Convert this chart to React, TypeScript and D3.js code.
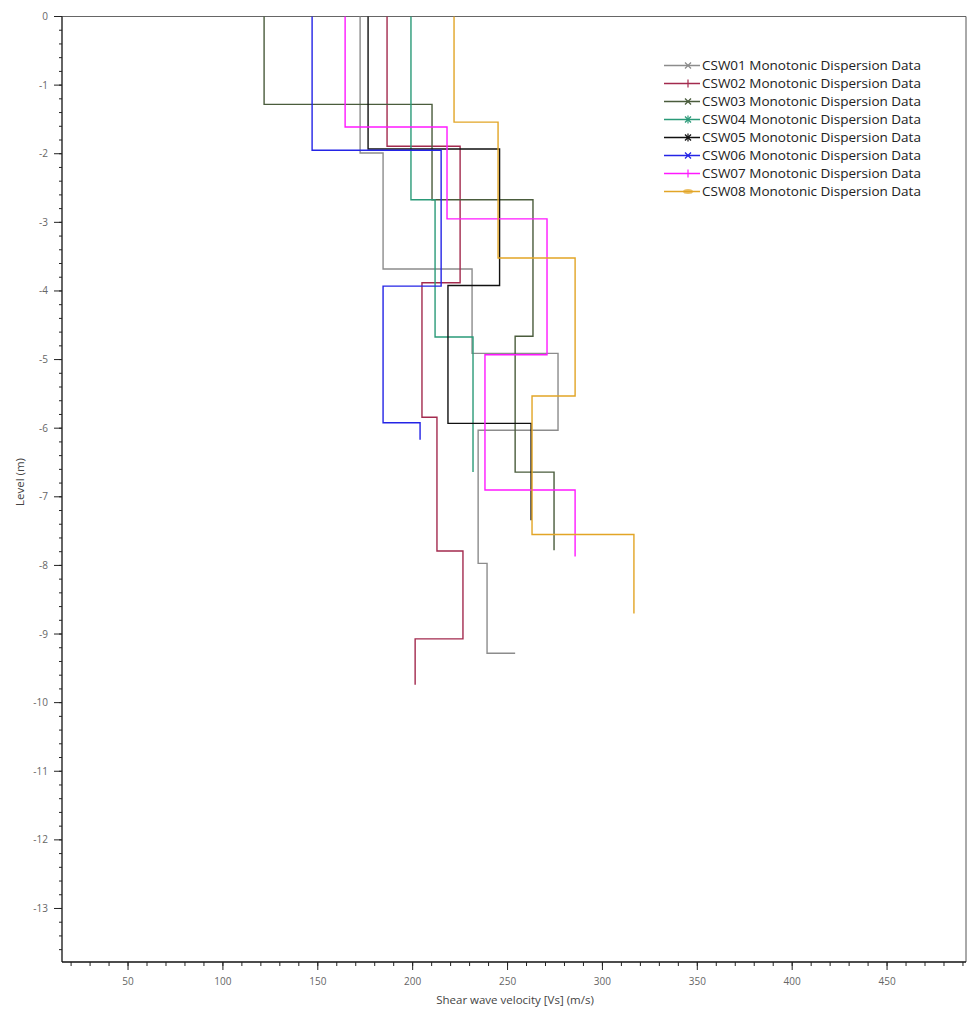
import React from "react";
import * as d3 from "d3";

// ---- data ----
const seriesNames = [
  "CSW01 Monotonic Dispersion Data",
  "CSW02 Monotonic Dispersion Data",
  "CSW03 Monotonic Dispersion Data",
  "CSW04 Monotonic Dispersion Data",
  "CSW05 Monotonic Dispersion Data",
  "CSW06 Monotonic Dispersion Data",
  "CSW07 Monotonic Dispersion Data",
  "CSW08 Monotonic Dispersion Data",
];
const seriesColors = ["#8c8c8c", "#a32a4e", "#4a5c3c", "#2a9a78", "#111111", "#2424e6", "#ff19ff", "#e2a526"];
const seriesMarkers = ["x", "+", "x", "*", "*", "x", "+", "-"];

// each series: layer velocities and layer boundary levels (levels.length = vs.length + 1)
const csw01Vs = [172.3, 184.4, 231.3, 276.6, 234.5, 239.2, 254.0];
const csw01Levels = [0, -1.99, -3.68, -4.91, -6.03, -7.97, -9.28, -9.28];
const csw02Vs = [186.5, 225.0, 204.9, 212.8, 226.5, 201.3];
const csw02Levels = [0, -1.89, -3.88, -5.84, -7.79, -9.07, -9.74];
const csw03Vs = [121.7, 210.2, 263.4, 254.0, 274.5];
const csw03Levels = [0, -1.28, -2.67, -4.66, -6.64, -7.78];
const csw04Vs = [199.1, 211.8, 231.8];
const csw04Levels = [0, -2.67, -4.67, -6.64];
const csw05Vs = [176.5, 245.8, 218.6, 262.4];
const csw05Levels = [0, -1.93, -3.92, -5.93, -7.34];
const csw06Vs = [147.0, 215.0, 184.4, 203.9];
const csw06Levels = [0, -1.95, -3.93, -5.92, -6.17];
const csw07Vs = [164.4, 218.1, 270.8, 238.1, 285.6];
const csw07Levels = [0, -1.61, -2.95, -4.93, -6.9, -7.87];
const csw08Vs = [221.8, 245.0, 285.6, 262.9, 316.6];
const csw08Levels = [0, -1.54, -3.52, -5.53, -7.55, -8.7];

const allVs = [csw01Vs, csw02Vs, csw03Vs, csw04Vs, csw05Vs, csw06Vs, csw07Vs, csw08Vs];
const allLevels = [csw01Levels, csw02Levels, csw03Levels, csw04Levels, csw05Levels, csw06Levels, csw07Levels, csw08Levels];

const xTickValues = [50, 100, 150, 200, 250, 300, 350, 400, 450];
const yTickValues = [0, -1, -2, -3, -4, -5, -6, -7, -8, -9, -10, -11, -12, -13];
const xDomain = [15.2, 491.6];
const yDomain = [0, -13.78];

const xTitle = "Shear wave velocity [Vs] (m/s)";
const yTitle = "Level (m)";

// ---- layout ----
const W = 970;
const H = 1015;
const plot = { left: 62, top: 16.5, right: 966, bottom: 962 };
const FONT = "'Open Sans', 'Noto Sans', sans-serif";

export default function App() {
  const x = d3.scaleLinear().domain(xDomain).range([plot.left, plot.right]);
  const y = d3.scaleLinear().domain(yDomain).range([plot.top, plot.bottom]);

  const line = d3
    .line<[number, number]>()
    .x((d) => x(d[0]))
    .y((d) => y(d[1]));

  const stepPoints = (vs: number[], lv: number[]) => {
    const pts: [number, number][] = [];
    vs.forEach((v, i) => {
      pts.push([v, lv[i]]);
      pts.push([v, lv[i + 1]]);
    });
    return pts;
  };

  const xMinor = d3.range(20, 491, 10);
  const yMinor = d3.range(0, -13.8, -0.2).map((v) => Math.round(v * 10) / 10);

  const legX = 664;
  const legY0 = 65.5;
  const legDy = 18;

  const marker = (type: string, cx: number, cy: number, color: string) => {
    const s = 3;
    const parts: React.ReactNode[] = [];
    if (type === "x" || type === "*") {
      parts.push(<line key="a" x1={cx - s} y1={cy - s} x2={cx + s} y2={cy + s} stroke={color} strokeWidth={1.2} />);
      parts.push(<line key="b" x1={cx - s} y1={cy + s} x2={cx + s} y2={cy - s} stroke={color} strokeWidth={1.2} />);
    }
    if (type === "+" || type === "*") {
      parts.push(<line key="c" x1={cx} y1={cy - 4} x2={cx} y2={cy + 4} stroke={color} strokeWidth={1.2} />);
    }
    if (type === "-") {
      parts.push(<ellipse key="d" cx={cx} cy={cy} rx={5} ry={2.5} fill={color} opacity={0.7} />);
    }
    return parts;
  };

  return (
    <svg width={W} height={H} style={{ position: "absolute", left: 0, top: 0, background: "#fff" }}>
      <rect x={0} y={0} width={W} height={H} fill="#ffffff" />
      {/* frame */}
      <line x1={plot.left} y1={plot.top} x2={plot.right} y2={plot.top} stroke="#666" strokeWidth={1.2} />
      <line x1={plot.right} y1={plot.top} x2={plot.right} y2={plot.bottom} stroke="#555" strokeWidth={1} />
      <line x1={plot.left} y1={plot.top} x2={plot.left} y2={plot.bottom} stroke="#111" strokeWidth={1.3} />
      <line x1={plot.left} y1={plot.bottom} x2={plot.right} y2={plot.bottom} stroke="#111" strokeWidth={1.3} />

      {/* y ticks */}
      {yMinor.map((v, i) => (
        <line key={"ym" + i} x1={plot.left - 3} x2={plot.left} y1={y(v)} y2={y(v)} stroke="#222" strokeWidth={1} />
      ))}
      {yTickValues.map((v) => (
        <g key={"yt" + v}>
          <line x1={plot.left - 8} x2={plot.left} y1={y(v)} y2={y(v)} stroke="#222" strokeWidth={1} />
          <text x={48} y={y(v)} dy="0.35em" textAnchor="end" fontSize={10} fill="#666" fontFamily={FONT}>
            {v === 0 ? "0" : "-" + Math.abs(v)}
          </text>
        </g>
      ))}
      {/* x ticks */}
      {xMinor.map((v, i) => (
        <line key={"xm" + i} x1={x(v)} x2={x(v)} y1={plot.bottom} y2={plot.bottom + 4} stroke="#222" strokeWidth={1} />
      ))}
      {xTickValues.map((v) => (
        <g key={"xt" + v}>
          <line x1={x(v)} x2={x(v)} y1={plot.bottom} y2={plot.bottom + 8} stroke="#222" strokeWidth={1} />
          <text x={x(v)} y={981} dy="0.35em" textAnchor="middle" fontSize={10} fill="#666" fontFamily={FONT}>
            {v}
          </text>
        </g>
      ))}

      {/* axis titles */}
      <text x={515} y={1004} textAnchor="middle" fontSize={11.5} fill="#444" fontFamily={FONT}>
        {xTitle}
      </text>
      <text
        transform={`translate(24, 482) rotate(-90)`}
        textAnchor="middle"
        fontSize={11.5}
        fill="#444"
        fontFamily={FONT}
      >
        {yTitle}
      </text>

      {/* series */}
      {allVs.map((vs, i) => (
        <path
          key={"s" + i}
          d={line(stepPoints(vs, allLevels[i])) || ""}
          fill="none"
          stroke={seriesColors[i]}
          strokeWidth={1.4}
        />
      ))}

      {/* legend */}
      {seriesNames.map((name, i) => {
        const ly = legY0 + i * legDy;
        return (
          <g key={"l" + i}>
            <line x1={legX} x2={legX + 36} y1={ly} y2={ly} stroke={seriesColors[i]} strokeWidth={1.5} />
            {marker(seriesMarkers[i], legX + 24, ly, seriesColors[i])}
            <text x={702} y={ly} dy="0.35em" fontSize={13.5} fill="#222" fontFamily={FONT}>
              {name}
            </text>
          </g>
        );
      })}
    </svg>
  );
}
